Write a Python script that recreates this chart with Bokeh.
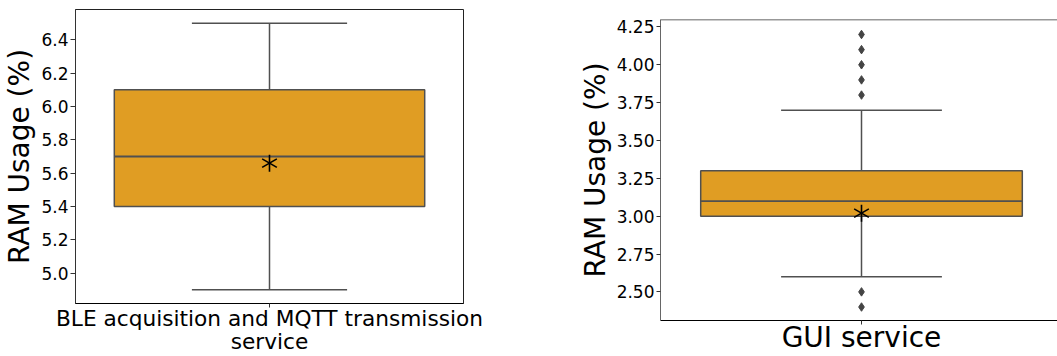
from bokeh.plotting import figure
from bokeh.layouts import row
from bokeh.models import Range1d, FixedTicker, PrintfTickFormatter, Span
from bokeh.embed import file_html
from bokeh.resources import INLINE
import math

# ---- data ----
service1_line1 = "BLE acquisition and MQTT transmission"
service1_line2 = "service"
s1_lower = [4.9]
s1_q1 = [5.4]
s1_median = [5.7]
s1_q3 = [6.1]
s1_upper = [6.5]
s1_mean = [5.66]
s1_outliers = []
s1_ticks = [5.0, 5.2, 5.4, 5.6, 5.8, 6.0, 6.2, 6.4]

service2 = "GUI service"
s2_lower = [2.6]
s2_q1 = [3.0]
s2_median = [3.1]
s2_q3 = [3.3]
s2_upper = [3.7]
s2_mean = [3.02]
s2_outliers = [3.8, 3.9, 4.0, 4.1, 4.2, 2.5, 2.4]
s2_ticks = [2.50, 2.75, 3.00, 3.25, 3.50, 3.75, 4.00, 4.25]

FONT = "DejaVu Sans"
BOX = "#E09D23"
LINE = "#505050"


def make(width, height, bl, br, bt, bb, xr, yr, ticks, fmt, name, name_size, name_standoff,
         lower, q1, med, q3, upper, mean, outl):
    p = figure(width=width, height=height, output_backend="svg", toolbar_location=None,
               x_range=Range1d(*xr), y_range=Range1d(*yr))
    if "frame_align" in p.properties():
        p.frame_align = False
    p.min_border = 0
    p.min_border_left = bl
    p.min_border_right = br
    p.min_border_top = bt
    p.min_border_bottom = bb
    p.xgrid.visible = False
    p.ygrid.visible = False
    p.background_fill_color = "white"
    p.border_fill_color = "white"
    pos = [0.0] * len(q1)
    p.vbar(x=pos, width=0.8, bottom=q1, top=q3, fill_color=BOX, line_color=LINE, line_width=1.5)
    p.segment(x0=[x - 0.4 for x in pos], x1=[x + 0.4 for x in pos], y0=med, y1=med,
              line_color=LINE, line_width=1.8)
    p.segment(x0=pos, x1=pos, y0=q3, y1=upper, line_color=LINE, line_width=1.5)
    p.segment(x0=pos, x1=pos, y0=lower, y1=q1, line_color=LINE, line_width=1.5)
    p.segment(x0=[x - 0.2 for x in pos], x1=[x + 0.2 for x in pos], y0=upper, y1=upper,
              line_color=LINE, line_width=1.5)
    p.segment(x0=[x - 0.2 for x in pos], x1=[x + 0.2 for x in pos], y0=lower, y1=lower,
              line_color=LINE, line_width=1.5)
    if outl:
        p.scatter(x=[0.0] * len(outl), y=outl, marker="diamond", size=8.5,
                  fill_color="#444444", line_color="#444444")
    for ang in [math.pi / 2, math.pi / 6, -math.pi / 6]:
        p.scatter(x=pos, y=mean, marker="dash", size=17, angle=ang,
                  line_color="black", line_width=1.6)
    # y axis
    p.yaxis.ticker = FixedTicker(ticks=ticks)
    p.yaxis.formatter = PrintfTickFormatter(format=fmt)
    p.yaxis.major_label_text_font = FONT
    p.yaxis.major_label_text_font_size = "17px"
    p.yaxis.major_label_text_color = "black"
    p.yaxis.major_tick_out = 5
    p.yaxis.major_tick_in = 0
    p.yaxis.minor_tick_out = 0
    p.yaxis.minor_tick_in = 0
    p.yaxis.major_label_standoff = 2
    p.yaxis.axis_label = "RAM Usage (%)"
    p.yaxis.axis_label_text_font = FONT
    p.yaxis.axis_label_text_font_size = "28px"
    p.yaxis.axis_label_text_font_style = "normal"
    p.yaxis.axis_label_text_color = "black"
    p.yaxis.axis_label_standoff = 2
    p.yaxis.axis_line_color = "#333333"
    p.yaxis.major_tick_line_color = "#333333"
    # x axis with the category name as tick label
    p.xaxis.ticker = FixedTicker(ticks=pos)
    p.xaxis.major_label_overrides = {0: name}
    p.xaxis.major_label_text_font = FONT
    p.xaxis.major_label_text_font_size = name_size
    p.xaxis.major_label_text_color = "black"
    p.xaxis.major_label_standoff = name_standoff
    p.xaxis.major_tick_out = 4
    p.xaxis.major_tick_in = 0
    p.xaxis.minor_tick_out = 0
    p.xaxis.minor_tick_in = 0
    p.xaxis.axis_line_color = "black"
    p.xaxis.major_tick_line_color = "#333333"
    return p


p1 = make(495, 356, 75, 32, 9, 53, (-0.5, 0.5), (4.818, 6.582), s1_ticks, "%.1f",
          service1_line1, "21.7px", -2,
          s1_lower, s1_q1, s1_median, s1_q3, s1_upper, s1_mean, s1_outliers)
p1.outline_line_color = "#222222"
# second line of the category name
p1.xaxis.axis_label = service1_line2
p1.xaxis.axis_label_text_font = FONT
p1.xaxis.axis_label_text_font_size = "21.7px"
p1.xaxis.axis_label_text_font_style = "normal"
p1.xaxis.axis_label_text_color = "black"
p1.xaxis.axis_label_standoff = -5

p2 = make(562, 356, 165, 0, 19, 35, (-0.5, -0.5 + 397 / 402), (2.311, 4.299), s2_ticks, "%.2f",
          service2, "28px", -4,
          s2_lower, s2_q1, s2_median, s2_q3, s2_upper, s2_mean, s2_outliers)
p2.outline_line_color = None
p2.yaxis.major_tick_out = 4
p2.yaxis.axis_line_color = "#666666"
p2.add_layout(Span(location=4.299, dimension="width", line_color="#333333", line_width=1.5))

layout = row(p1, p2)
open("out.html", "w").write(file_html(layout, INLINE))
